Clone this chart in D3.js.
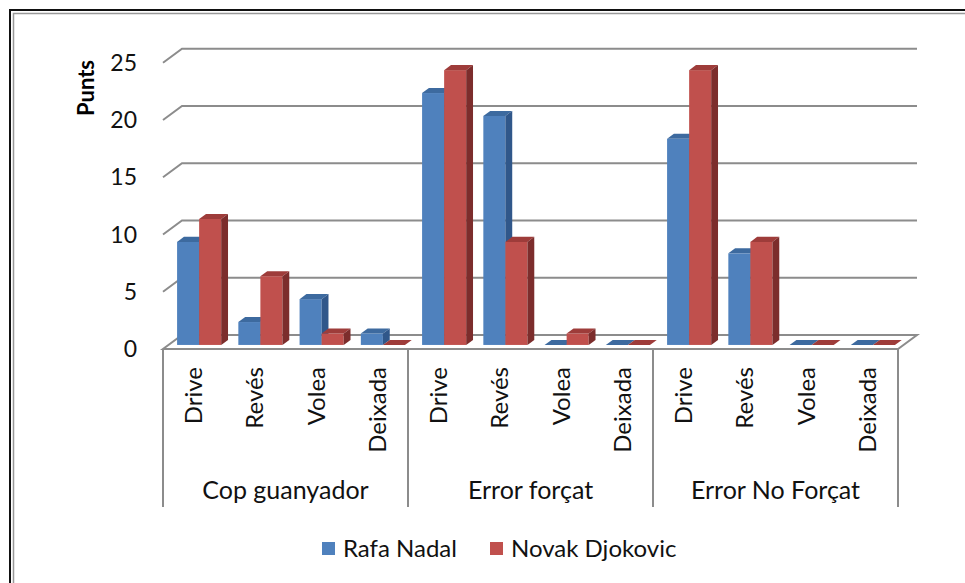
<!DOCTYPE html>
<html>
<head>
<meta charset="utf-8">
<script src="https://cdn.jsdelivr.net/npm/d3@7"></script>
<style>
  body { margin: 0; background: #fff; }
  svg { display: block; font-family: Lato, "Open Sans", sans-serif; }
</style>
</head>
<body>
<div id="container"></div>
<script>
// chart values
let groups = ["Cop guanyador", "Error forçat", "Error No Forçat"];
let shots = ["Drive", "Revés", "Volea", "Deixada"];
let series = ["Rafa Nadal", "Novak Djokovic"];
let nadal = [9, 2, 4, 1, 22, 20, 0, 0, 18, 8, 0, 0];
let djokovic = [11, 6, 1, 0, 24, 9, 1, 0, 24, 9, 0, 0];
let yTicks = [0, 5, 10, 15, 20, 25];

let w = 965;
let h = 583;

// 3d floor geometry
let left = 163, right = 898, floorY = 349;
let depthX = 19, depthY = -14;
let barFront = 0.29, barDepth = 0.36;

let front = ['#4F81BD', '#C0504D'];
let topC = ['#3d6a9f', '#9e3c3a'];
let side = ['#30578a', '#7c2d2c'];

let svg = d3.select("#container")
  .append("svg")
  .attr("width", w)
  .attr("height", h);

// outer border (runs off the picture)
svg.append("rect")
  .attr("x", 10).attr("y", 10)
  .attr("width", w + 20).attr("height", h + 20)
  .attr("fill", "none")
  .attr("stroke", "#111").attr("stroke-width", 2);
svg.append("rect")
  .attr("x", 13.5).attr("y", 13.5)
  .attr("width", w + 20).attr("height", h + 20)
  .attr("fill", "none")
  .attr("stroke", "#999").attr("stroke-width", 1.5);

let keys = [];
groups.forEach(g => shots.forEach(s => keys.push(g + "|" + s)));

let x = d3.scaleBand()
  .domain(keys)
  .range([left, right])
  .paddingInner(0.28)
  .paddingOuter(0.14);

let xs = d3.scaleBand()
  .domain(series)
  .range([0, x.bandwidth()]);

let y = d3.scaleLinear()
  .domain([0, 25])
  .range([0, 286.25]);

let gx = d3.scaleBand()
  .domain(groups)
  .range([left, right]);

// floor
svg.append("path")
  .attr("d", `M${left},${floorY} L${right},${floorY} L${right + depthX},${floorY + depthY} L${left + depthX},${floorY + depthY} Z`)
  .attr("fill", "#fff")
  .attr("stroke", "#8c8c8c")
  .attr("stroke-width", 2);

// gridlines on back wall, with stub to front
let grid = svg.append("g");
yTicks.filter(d => d > 0).forEach(function(t) {
  let yb = floorY + depthY - y(t);
  let yf = floorY - y(t);
  grid.append("path")
    .attr("d", `M${left},${yf} L${left + depthX},${yb} L${right + depthX},${yb}`)
    .attr("fill", "none")
    .attr("stroke", "#8c8c8c")
    .attr("stroke-width", 2);
});

// y tick labels
svg.append("g").selectAll("text")
  .data(yTicks)
  .enter()
  .append("text")
  .attr("x", 137)
  .attr("y", d => floorY - y(d))
  .attr("dy", "0.35em")
  .attr("text-anchor", "end")
  .attr("font-size", 23)
  .attr("fill", "#111")
  .text(d => d);

svg.append("text")
  .attr("transform", "translate(86,88) rotate(-90)")
  .attr("text-anchor", "middle")
  .attr("dy", "0.35em")
  .attr("font-size", 22)
  .attr("font-weight", "bold")
  .text("Punts");

// bars
let bars = svg.append("g");
let fx = depthX * barFront, fy = depthY * barFront;
let bx = depthX * barDepth, by = depthY * barDepth;
keys.forEach(function(k, i) {
  [nadal[i], djokovic[i]].forEach(function(v, s) {
    let x0 = x(k) + xs(series[s]) + fx;
    let x1 = x0 + xs.bandwidth();
    let yb = floorY + fy;
    let yt = yb - y(v);
    let g = bars.append("g");
    g.append("rect")
      .attr("x", x0).attr("y", yt)
      .attr("width", x1 - x0).attr("height", yb - yt)
      .attr("fill", front[s]);
    g.append("path")
      .attr("d", `M${x0},${yt} L${x1},${yt} L${x1 + bx},${yt + by} L${x0 + bx},${yt + by} Z`)
      .attr("fill", topC[s]);
    g.append("path")
      .attr("d", `M${x1},${yt} L${x1 + bx},${yt + by} L${x1 + bx},${yb + by} L${x1},${yb} Z`)
      .attr("fill", side[s]);
  });
});

// category axis: group dividers
let axis = svg.append("g");
d3.range(groups.length + 1).forEach(function(i) {
  let xx = i < groups.length ? gx(groups[i]) : right;
  axis.append("line")
    .attr("x1", xx).attr("x2", xx)
    .attr("y1", floorY).attr("y2", 507)
    .attr("stroke", "#8c8c8c")
    .attr("stroke-width", 2);
});

axis.selectAll(".shot")
  .data(keys)
  .enter()
  .append("text")
  .attr("class", "shot")
  .attr("transform", d => `translate(${x(d) + x.bandwidth() / 2},367) rotate(-90)`)
  .attr("text-anchor", "end")
  .attr("dy", "0.35em")
  .attr("font-size", 24)
  .attr("fill", "#111")
  .text(d => d.split("|")[1]);

axis.selectAll(".grp")
  .data(groups)
  .enter()
  .append("text")
  .attr("class", "grp")
  .attr("x", d => gx(d) + gx.bandwidth() / 2)
  .attr("y", 490)
  .attr("dy", "0.35em")
  .attr("text-anchor", "middle")
  .attr("font-size", 25)
  .attr("fill", "#111")
  .text(d => d);

// legend
let legX = [322, 490];
let legend = svg.append("g");
series.forEach(function(s, i) {
  legend.append("rect")
    .attr("x", legX[i]).attr("y", 542)
    .attr("width", 13).attr("height", 13)
    .attr("fill", front[i]);
  legend.append("text")
    .attr("x", legX[i] + 21).attr("y", 549)
    .attr("dy", "0.35em")
    .attr("font-size", 24)
    .attr("fill", "#111")
    .text(s);
});
</script>
</body>
</html>
